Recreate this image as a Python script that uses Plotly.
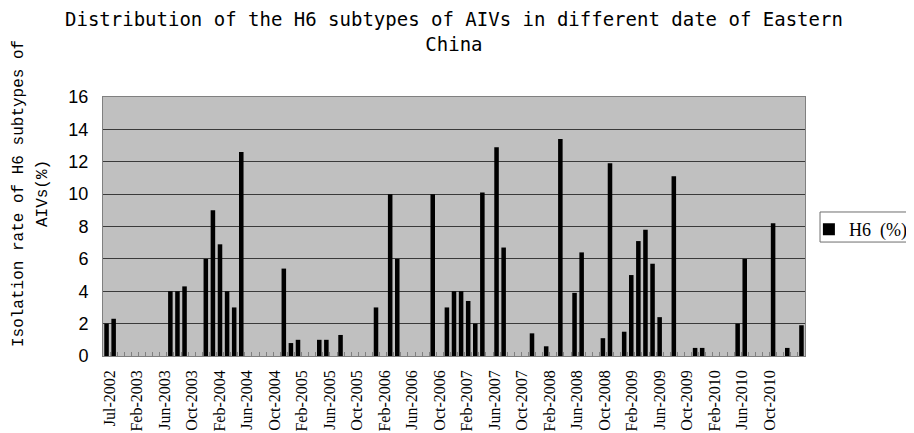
import plotly.graph_objects as go

# Categories (one per sampling month)
categories = ["Jul-2002", "Nov-2002", "Dec-2002", "Jan-2003"]
month_names = ["Jan", "Feb", "Mar", "Apr", "May", "Jun",
               "Jul", "Aug", "Sep", "Oct", "Nov", "Dec"]
for year in range(2003, 2011):
    for m, name in enumerate(month_names):
        if year == 2003 and m == 0:
            continue
        categories.append(f"{name}-{year}")

# Isolation rate of H6 subtypes (%)
h6_rate = [
    2.0, 2.3, 0, 0, 0, 0, 0, 0, 0, 4.0,
    4.0, 4.3, 0, 0, 6.0, 9.0, 6.9, 4.0, 3.0, 12.6,
    0, 0, 0, 0, 0, 5.4, 0.8, 1.0, 0, 0,
    1.0, 1.0, 0, 1.3, 0, 0, 0, 0, 3.0, 0,
    10.0, 6.0, 0, 0, 0, 0, 10.0, 0, 3.0, 4.0,
    4.0, 3.4, 2.0, 10.1, 0, 12.9, 6.7, 0, 0, 0,
    1.4, 0, 0.6, 0, 13.4, 0, 3.9, 6.4, 0, 0,
    1.1, 11.9, 0, 1.5, 5.0, 7.1, 7.8, 5.7, 2.4, 0,
    11.1, 0, 0, 0.5, 0.5, 0, 0, 0, 0, 2.0,
    6.0, 0, 0, 0, 8.2, 0, 0.5, 0, 1.9,
]

# Axis labels as printed under the chart
tick_labels = [
    "Jul-2002", "Feb-2003", "Jun-2003", "Oct-2003", "Feb-2004", "Jun-2004",
    "Oct-2004", "Feb-2005", "Jun-2005", "Oct-2005", "Feb-2006", "Jun-2006",
    "Oct-2006", "Feb-2007", "Jun-2007", "Oct-2007", "Feb-2008", "Jun-2008",
    "Oct-2008", "Feb-2009", "Jun-2009", "Oct-2009", "Feb-2010", "Jun-2010",
    "Oct-2010",
]
label_slots = list(range(len(tick_labels)))

title_text = ("Distribution of the H6 subtypes of AIVs in different date of Eastern"
              "<br>China")
y_title_1 = "Isolation rate of H6 subtypes of"
y_title_2 = "AIVs(%)"

fig = go.Figure()
fig.add_trace(go.Bar(
    x=categories, y=h6_rate, name="H6\u00a0\u00a0(%)",
    marker=dict(color="black", line=dict(width=0)),
))
# carrier for the label axis (draws nothing)
fig.add_trace(go.Scatter(
    x=label_slots, y=[None] * len(label_slots), xaxis="x2", yaxis="y",
    mode="markers", showlegend=False, hoverinfo="skip",
))

# page body adds an 8px offset, so the figure is 8px smaller than the window
fig.update_layout(
    width=906, height=425,
    margin=dict(l=95, r=109, t=89, b=77, autoexpand=False),
    paper_bgcolor="white",
    plot_bgcolor="#C0C0C0",
    bargap=0.36,
    showlegend=True,
    legend=dict(xref="container", yref="container",
                x=0.884, xanchor="left", y=0.522, yanchor="top",
                bgcolor="rgba(0,0,0,0)", borderwidth=0,
                font=dict(family="Liberation Serif", size=18, color="black"),
                itemwidth=30),
    xaxis=dict(
        type="category", categoryorder="array", categoryarray=categories,
        tickmode="array", tickvals=categories, showticklabels=False,
        tickson="boundaries",
        ticks="inside", ticklen=4, tickcolor="#808080",
        showline=True, linecolor="#808080", linewidth=1, mirror=True,
        showgrid=False, range=[-0.5, len(categories) - 0.5],
        automargin=False,
    ),
    xaxis2=dict(
        overlaying="x", anchor="y", side="bottom", type="linear",
        range=[-0.236, 25.291],
        tickmode="array", tickvals=label_slots,
        ticktext=tick_labels, tickangle=-90, ticks="",
        ticklabelstandoff=10,
        tickfont=dict(family="Liberation Serif", size=16, color="black"),
        showgrid=False, zeroline=False, showline=False,
        automargin=False,
    ),
    yaxis=dict(
        range=[0, 16], dtick=2, tick0=0,
        showgrid=True, gridcolor="#3a3a3a", gridwidth=1,
        tickfont=dict(family="Liberation Sans", size=18, color="black"),
        ticks="", ticklabelstandoff=10,
        showline=True, linecolor="#808080", linewidth=1, mirror=True,
        zeroline=False, automargin=False,
    ),
    shapes=[dict(type="rect", xref="paper", yref="paper",
                 x0=1.0214, x1=1.16, y0=0.440, y1=0.556,
                 line=dict(color="#6e6e6e", width=1), fillcolor="rgba(0,0,0,0)",
                 layer="below")],
    annotations=[
        dict(text=title_text, xref="paper", yref="paper", x=0.5, y=1.253,
             xanchor="center", yanchor="middle", showarrow=False,
             font=dict(family="DejaVu Sans Mono", size=19, color="black")),
        dict(text=y_title_1, textangle=-90, xref="paper", yref="paper",
             x=-0.1197, y=0.629, xanchor="center", yanchor="middle",
             showarrow=False,
             font=dict(family="Liberation Mono", size=16, color="black")),
        dict(text=y_title_2, textangle=-90, xref="paper", yref="paper",
             x=-0.0855, y=0.629, xanchor="center", yanchor="middle",
             showarrow=False,
             font=dict(family="Liberation Mono", size=16, color="black")),
    ],
)

fig.write_html("out.html")
